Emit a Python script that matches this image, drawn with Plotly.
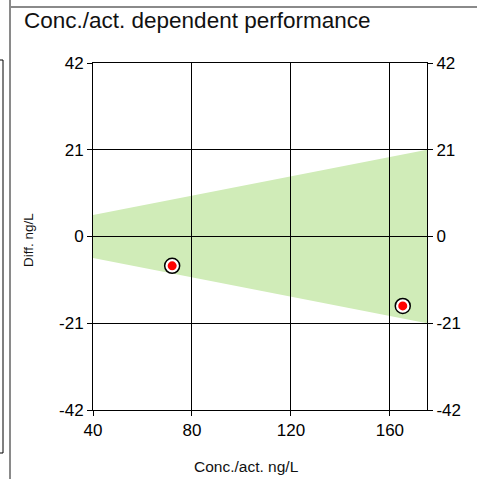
import plotly.graph_objects as go

# ---- data ----
conc = [72.0, 165.2]           # Conc./act. ng/L
diff = [-7.1, -16.8]           # Diff. ng/L
band_x = [40, 175]             # acceptance band limits
band_upper = [5.2, 21.0]
band_lower = [-5.2, -21.0]
x_ticks = [40, 80, 120, 160]
y_ticks = [-42, -21, 0, 21, 42]
x_range = [40, 175]
y_range = [-42, 42]

W, H = 477, 479
L, R, T, B = 93, 50, 63, 69
PW, PH = W - L - R, H - T - B

def px(x):
    return (x - L) / PW

def py(y):
    return (H - B - y) / PH

FONT = "Liberation Sans, Arial, sans-serif"

fig = go.Figure()

fig.add_trace(go.Scatter(
    x=conc, y=diff, mode="markers",
    marker=dict(size=15, color="white", line=dict(color="black", width=1.5)),
    hoverinfo="skip", showlegend=False))
fig.add_trace(go.Scatter(
    x=conc, y=diff, mode="markers",
    marker=dict(size=9, color="#ff0000", line=dict(width=0)),
    showlegend=False))
# invisible trace for the right-hand axis
fig.add_trace(go.Scatter(x=conc, y=diff, yaxis="y2", mode="markers",
                         marker=dict(opacity=0), hoverinfo="skip", showlegend=False))

# band polygon from data arrays (drawn below gridlines)
pts = list(zip(band_x, band_upper)) + list(zip(band_x[::-1], band_lower[::-1]))
path = "M " + " L ".join(f"{x},{y}" for x, y in pts) + " Z"
shapes = [dict(type="path", path=path, xref="x", yref="y", layer="below",
               fillcolor="#d0ecb8", line=dict(width=0))]

# page frame lines
gray = "#8a8a8a"
shapes += [
    dict(type="line", xref="paper", yref="paper", x0=px(9), x1=px(477), y0=py(7), y1=py(7),
         line=dict(color=gray, width=2)),
    dict(type="line", xref="paper", yref="paper", x0=px(10), x1=px(10), y0=py(0), y1=py(479),
         line=dict(color=gray, width=2)),
    dict(type="line", xref="paper", yref="paper", x0=px(3), x1=px(3), y0=py(60), y1=py(453),
         line=dict(color="black", width=1)),
    dict(type="line", xref="paper", yref="paper", x0=px(-1), x1=px(3), y0=py(60), y1=py(60),
         line=dict(color="black", width=1)),
    dict(type="line", xref="paper", yref="paper", x0=px(-1), x1=px(3), y0=py(453), y1=py(453),
         line=dict(color="black", width=1)),
]

axis_common = dict(showline=True, linecolor="black", linewidth=1,
                   showgrid=True, gridcolor="black", gridwidth=1,
                   zeroline=False, ticks="outside", ticklen=5, tickcolor="black",
                   tickfont=dict(family=FONT, size=17, color="black"))

fig.update_layout(
    width=W, height=H,
    margin=dict(l=L, r=R, t=T, b=B),
    paper_bgcolor="white", plot_bgcolor="white",
    showlegend=False,
    title=dict(text="Conc./act. dependent performance", x=24 / W, xanchor="left",
               y=1 - 20 / H, yanchor="middle",
               font=dict(family=FONT, size=22.5, color="#111")),
    xaxis=dict(range=x_range, tickvals=x_ticks, ticktext=[str(v) for v in x_ticks],
               mirror=True, **axis_common),
    yaxis=dict(range=y_range, tickvals=y_ticks, ticktext=[str(v) for v in y_ticks],
               mirror=True, **axis_common),
    yaxis2=dict(range=y_range, tickvals=y_ticks, ticktext=[str(v) for v in y_ticks],
                overlaying="y", side="right",
                **{k: v for k, v in axis_common.items() if k not in ("showgrid",)},
                ),
    shapes=shapes,
    annotations=[
        dict(text="Conc./act. ng/L", xref="paper", yref="paper", x=px(246.5), y=py(466),
             xanchor="center", yanchor="middle", showarrow=False,
             font=dict(family=FONT, size=15.5, color="#111")),
        dict(text="Diff. ng/L", xref="paper", yref="paper", x=px(28), y=py(240),
             xanchor="center", yanchor="middle", showarrow=False, textangle=-90,
             font=dict(family=FONT, size=13.5, color="#111")),
    ],
)
fig.layout.yaxis2.showgrid = False

fig.write_html("out.html", config={"displayModeBar": False},
               post_script="document.body.style.margin='0';document.body.style.overflow='hidden';")
